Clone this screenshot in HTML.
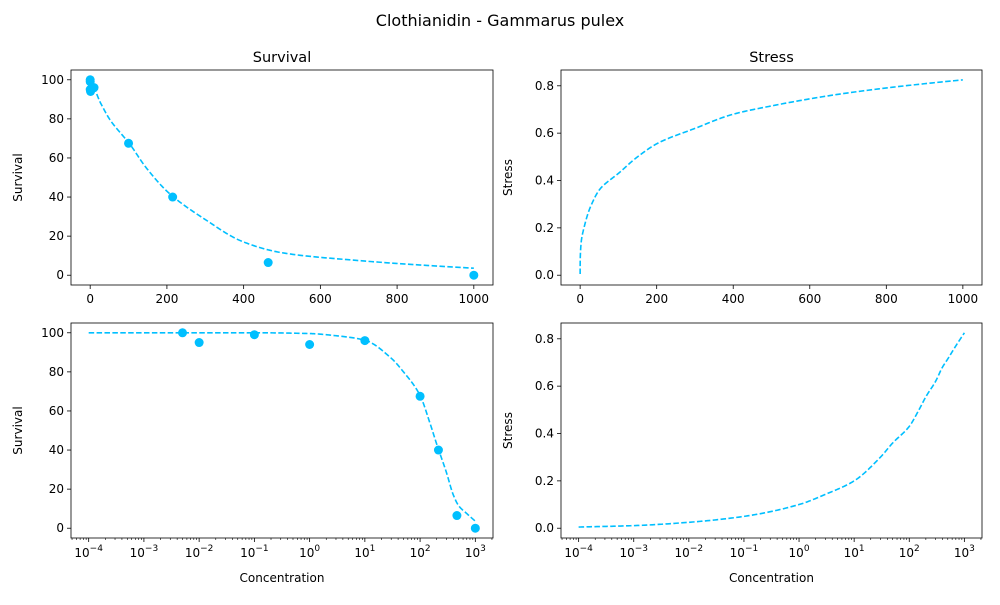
<!DOCTYPE html>
<html><head><meta charset="utf-8"><style>
body{margin:0;background:#fff;font-family:"Liberation Sans","DejaVu Sans",sans-serif}
svg text{font-family:"DejaVu Sans","Liberation Sans",sans-serif;fill:#000}
</style></head><body>
<svg id="fig" width="1000" height="600" viewBox="0 0 1000 600" xmlns="http://www.w3.org/2000/svg">
<text x="500" y="26" font-size="16" text-anchor="middle">Clothianidin - Gammarus pulex</text>
</svg>
<script>
const obsConc = [0.005, 0.01, 0.1, 1, 10, 100, 215, 464, 1000];
const obsSurv = [100, 95, 99, 94, 96, 67.5, 40, 6.5, 0];
const curveConc = [0.0001, 0.001, 0.01, 0.1, 1, 3, 10, 30, 50, 100, 150, 200, 300, 400, 500, 700, 1000];
const curveSurv = [100, 100, 100, 100, 99.6, 98.5, 96.2, 87, 80, 67.9, 54, 43, 28.5, 17, 11.5, 7.5, 3.6];
const curveStress = [0.005, 0.011, 0.025, 0.05, 0.1, 0.143, 0.2, 0.3, 0.36, 0.43, 0.5, 0.555, 0.62, 0.68, 0.715, 0.77, 0.825];
const survTicks = [0, 20, 40, 60, 80, 100];
const stressTicks = [0, 0.2, 0.4, 0.6, 0.8];
const linTicks = [0, 200, 400, 600, 800, 1000];
const logTicks = [-4, -3, -2, -1, 0, 1, 2, 3];

const NS = "http://www.w3.org/2000/svg";
const fig = document.getElementById('fig');
const C = '#00bfff';
function mk(tag, attrs, parent){const e=document.createElementNS(NS,tag);for(const k in attrs)e.setAttribute(k,attrs[k]);(parent||fig).appendChild(e);return e;}

// monotone cubic interpolation in log-concentration space
function dense(vals){
  const xs=curveConc.map(v=>Math.log10(v)), n=xs.length;
  const d=[], m=new Array(n);
  for(let i=0;i<n-1;i++)d.push((vals[i+1]-vals[i])/(xs[i+1]-xs[i]));
  m[0]=d[0];m[n-1]=d[n-2];
  for(let i=1;i<n-1;i++){
    if(d[i-1]*d[i]<=0)m[i]=0;
    else{const w1=2*(xs[i+1]-xs[i])+(xs[i]-xs[i-1]),w2=(xs[i+1]-xs[i])+2*(xs[i]-xs[i-1]);
      m[i]=(w1+w2)/(w1/d[i-1]+w2/d[i]);}
  }
  const out=[];
  for(let i=0;i<n-1;i++){
    const h=xs[i+1]-xs[i];
    for(let j=0;j<30;j++){
      const t=j/30,t2=t*t,t3=t2*t;
      const y=(2*t3-3*t2+1)*vals[i]+(t3-2*t2+t)*h*m[i]+(-2*t3+3*t2)*vals[i+1]+(t3-t2)*h*m[i+1];
      out.push([Math.pow(10,xs[i]+h*t),y]);
    }
  }
  out.push([curveConc[n-1],vals[n-1]]);
  return out;
}

function panel(x0,x1,y0,y1,opts,name){
  const g=mk('g',{});
  
  
  let sx;
  if(opts.log){const lo=-4.32,hi=3.32;sx=v=>x0+(Math.log10(v)-lo)/(hi-lo)*(x1-x0);}
  else{const lo=-50,hi=1050;sx=v=>x0+(v-lo)/(hi-lo)*(x1-x0);}
  const sy=v=>y1-(v-opts.ylo)/(opts.yhi-opts.ylo)*(y1-y0);
  opts.yticks.forEach(t=>{
    const y=sy(t);
    const l=mk('line',{x1:x0-4,x2:x0,y1:y,y2:y,stroke:'#000','stroke-width':0.8},g);
    
    
    const tx=mk('text',{x:x0-7,y:y+4,'font-size':12,'text-anchor':'end'},g);
    tx.textContent=opts.yfmt(t);
    
    
  });
  if(opts.log){
    logTicks.forEach(p=>{
      const x=sx(Math.pow(10,p));
      mk('line',{x1:x,x2:x,y1:y1,y2:y1+4,stroke:'#000','stroke-width':0.8},g);
      const tx=mk('text',{x:x,y:y1+19,'font-size':12,'text-anchor':'middle'},g);
      
      
      const a=document.createElementNS(NS,'tspan');a.textContent='10';tx.appendChild(a);
      const b=document.createElementNS(NS,'tspan');b.textContent=p<0?'\u2212'+(-p):String(p);b.setAttribute('dy','-6');b.setAttribute('font-size','9');tx.appendChild(b);
    });
    for(let p=-5;p<=3;p++)for(let m=2;m<=9;m++){
      const v=m*Math.pow(10,p);const x=sx(v);
      if(x<x0||x>x1)continue;
      mk('line',{x1:x,x2:x,y1:y1,y2:y1+2,stroke:'#000','stroke-width':0.6},g);
    }
  } else {
    linTicks.forEach(t=>{
      const x=sx(t);
      mk('line',{x1:x,x2:x,y1:y1,y2:y1+4,stroke:'#000','stroke-width':0.8},g);
      const tx=mk('text',{x:x,y:y1+18,'font-size':12,'text-anchor':'middle'},g);
      tx.textContent=t;
      
      
    });
  }
  const pts=dense(opts.curve).map(p=>sx(p[0]).toFixed(2)+','+sy(p[1]).toFixed(2)).join(' ');
  const pl=mk('polyline',{points:pts,fill:'none',stroke:C,'stroke-width':1.6,'stroke-dasharray':'5.5,2.4','stroke-linejoin':'round'},g);
  
  
  if(opts.points){
    obsConc.forEach((c,i)=>{
      const d=mk('circle',{cx:sx(c),cy:sy(obsSurv[i]),r:4.5,fill:C},g);
      
      
    });
  }
  const fr=mk('rect',{x:x0,y:y0,width:x1-x0,height:y1-y0,fill:'none',stroke:'#000','stroke-width':0.8},g);
  
  
  if(opts.title){const t=mk('text',{x:(x0+x1)/2,y:y0-8,'font-size':14.5,'text-anchor':'middle'},g);t.textContent=opts.title;
    
    }
  const yl=mk('text',{x:0,y:0,'font-size':12,'text-anchor':'middle',transform:`translate(${x0-49},${(y0+y1)/2}) rotate(-90)`},g);
  yl.textContent=opts.ylabel;
  
  
  if(opts.xlabel){const xl=mk('text',{x:(x0+x1)/2,y:y1+44,'font-size':12,'text-anchor':'middle'},g);xl.textContent=opts.xlabel;
    
    }
}
const sf=v=>String(v);
const ff=v=>v.toFixed(1);
panel(71,493,70,285,{log:false,ylo:-5,yhi:105,yticks:survTicks,yfmt:sf,curve:curveSurv,points:true,title:'Survival',ylabel:'Survival'},'survival-linear-panel');
panel(561,982,70,285,{log:false,ylo:-0.0413,yhi:0.8667,yticks:stressTicks,yfmt:ff,curve:curveStress,points:false,title:'Stress',ylabel:'Stress'},'stress-linear-panel');
panel(71,493,323,538,{log:true,ylo:-5,yhi:105,yticks:survTicks,yfmt:sf,curve:curveSurv,points:true,ylabel:'Survival',xlabel:'Concentration'},'survival-log-panel');
panel(561,982,323,538,{log:true,ylo:-0.0413,yhi:0.8667,yticks:stressTicks,yfmt:ff,curve:curveStress,points:false,ylabel:'Stress',xlabel:'Concentration'},'stress-log-panel');
</script>
</body></html>
